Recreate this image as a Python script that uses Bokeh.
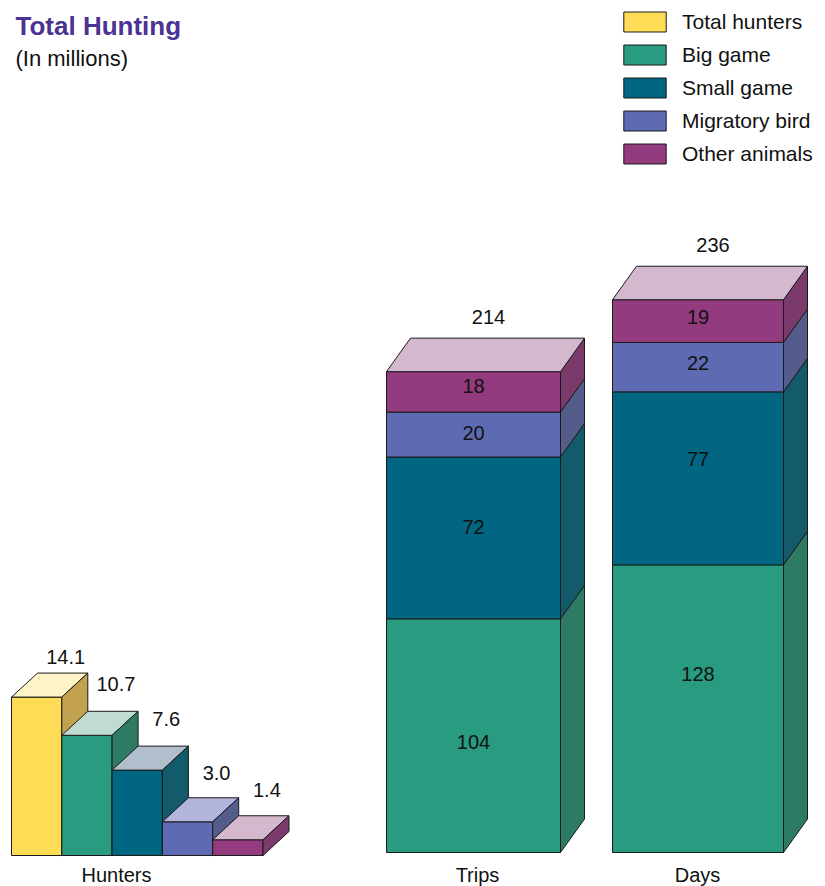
from bokeh.plotting import figure
from bokeh.models import Range1d, ColumnDataSource, Label, Legend, LegendItem
from bokeh.core.properties import value
from bokeh.embed import file_html
from bokeh.resources import INLINE

# ---------------------------------------------------------------- data (millions)
hunter_types = ["Total hunters", "Big game", "Small game", "Migratory bird", "Other animals"]
hunters = [14.1, 10.7, 7.6, 3.0, 1.4]

segment_types = ["Big game", "Small game", "Migratory bird", "Other animals"]
trips = [104, 72, 20, 18]
days = [128, 77, 22, 19]
stack_totals = [214, 236]

groups = ["Hunters", "Trips", "Days"]

# ---------------------------------------------------------------- colours
front_col = {
    "Total hunters": "#FFDC55",
    "Big game": "#289B80",
    "Small game": "#006682",
    "Migratory bird": "#5E6BB3",
    "Other animals": "#933B7E",
}
top_col = {
    "Total hunters": "#FFF4C8",
    "Big game": "#C0DBD2",
    "Small game": "#B1BFCC",
    "Migratory bird": "#B3B5DD",
    "Other animals": "#D3B8CE",
}
side_col = {
    "Total hunters": "#C3A24F",
    "Big game": "#2E7B65",
    "Small game": "#135A6B",
    "Migratory bird": "#545C8B",
    "Other animals": "#7A3A6B",
}
EDGE = "#1a1a1a"
FONT_NAME = "Liberation Sans"
FONT = value(FONT_NAME)

# ---------------------------------------------------------------- layout
W, H = 825, 886
BASE = 852            # screen row of the baseline (trips / days)
PPU = 2.247           # pixels per million for trips / days
H_BASE = 855          # screen row of the baseline (hunters)
H_PPU = PPU * 5       # hunters use a scale five times larger

# screen-pixel nudges for the value labels
hunter_label_lift = [-16, -27, -27, -25, -26]
trips_label_nudge = [6, -11, -2, -6]
days_label_nudge = [-35, -19, -4, -4]

p = figure(width=W, height=H, output_backend="svg", toolbar_location=None,
           x_range=Range1d(0, W),
           y_range=Range1d(-(H - BASE) / PPU, BASE / PPU),
           x_axis_location=None, y_axis_location=None, min_border=0)
p.extra_y_ranges = {"hunters": Range1d(-(H - H_BASE) / H_PPU, H_BASE / H_PPU)}
p.grid.visible = False
p.outline_line_color = None
p.background_fill_color = "white"
p.border_fill_color = "white"

face = dict(line_color=EDGE, line_width=1)

# ---------------------------------------------------------------- hunters (side by side)
HX0, HW = 11, 50.3
H_DX, H_DY = 26, 24 / H_PPU
legend_items = []
hl = dict(x=[], y=[], text=[], dy=[])
for i, (name, v) in enumerate(zip(hunter_types, hunters)):
    L = HX0 + i * HW
    R = L + HW
    r = p.quad(left=[L], right=[R], bottom=[0], top=[v], fill_color=front_col[name],
               y_range_name="hunters", **face)
    p.patch([L, L + H_DX, R + H_DX, R], [v, v + H_DY, v + H_DY, v],
            fill_color=top_col[name], y_range_name="hunters", **face)
    p.patch([R, R + H_DX, R + H_DX, R], [0, H_DY, v + H_DY, v],
            fill_color=side_col[name], y_range_name="hunters", **face)
    legend_items.append(LegendItem(label=name, renderers=[r]))
    hl["x"].append((L + R) / 2 + H_DX + 3)
    hl["y"].append(v + H_DY)
    hl["text"].append(f"{v:.1f}")
    hl["dy"].append(hunter_label_lift[i])

p.text(x="x", y="y", text="text", source=ColumnDataSource(hl), y_range_name="hunters",
       y_offset="dy", text_align="center", text_baseline="middle",
       text_font=FONT, text_font_size="20px", text_color="#111111")

# ---------------------------------------------------------------- trips / days (stacked)
S_DX, S_DY = 24, 33.5 / PPU
stacks = [(trips, 386, 174, trips_label_nudge), (days, 612, 171, days_label_nudge)]
seg_lab = dict(x=[], y=[], text=[], dy=[])
tot_lab = dict(x=[], y=[], text=[])
for (vals, L, BW, nudge), total in zip(stacks, stack_totals):
    R = L + BW
    b = 0
    for name, v, dy in zip(segment_types, vals, nudge):
        t = b + v
        p.quad(left=[L], right=[R], bottom=[b], top=[t], fill_color=front_col[name], **face)
        p.patch([R, R + S_DX, R + S_DX, R], [b, b + S_DY, t + S_DY, t],
                fill_color=side_col[name], **face)
        seg_lab["x"].append((L + R) / 2)
        seg_lab["y"].append((b + t) / 2)
        seg_lab["text"].append(str(v))
        seg_lab["dy"].append(dy)
        b = t
    p.patch([L, L + S_DX, R + S_DX, R], [b, b + S_DY, b + S_DY, b],
            fill_color=top_col[segment_types[-1]], **face)
    tot_lab["x"].append((L + R) / 2 + 15)
    tot_lab["y"].append(b + S_DY)
    tot_lab["text"].append(str(total))

p.text(x="x", y="y", text="text", source=ColumnDataSource(seg_lab), y_offset="dy",
       text_align="center", text_baseline="middle",
       text_font=FONT, text_font_size="20px", text_color="#111111")
p.text(x="x", y="y", text="text", source=ColumnDataSource(tot_lab), y_offset=-21,
       text_align="center", text_baseline="middle",
       text_font=FONT, text_font_size="20px", text_color="#111111")

# ---------------------------------------------------------------- group names
group_x = [116, 477, 697]
p.text(x=group_x, y=[0] * len(groups), text=groups, y_offset=22,
       text_align="center", text_baseline="middle",
       text_font=FONT, text_font_size="20px", text_color="#111111")

# ---------------------------------------------------------------- title
p.add_layout(Label(x=15, y=H - 25, x_units="screen", y_units="screen",
                   text="Total Hunting", text_font=FONT_NAME, text_font_size="26px",
                   text_font_style="bold", text_color="#4B3394",
                   text_baseline="alphabetic"))
p.add_layout(Label(x=15, y=H - 58, x_units="screen", y_units="screen",
                   text="(In millions)", text_font=FONT_NAME, text_font_size="22px",
                   text_color="#111111", text_baseline="alphabetic"))

# ---------------------------------------------------------------- legend
legend = Legend(items=legend_items, location=(618, H - 9 - (5 * 25 + 4 * 8)),
                orientation="vertical", glyph_width=53, glyph_height=25,
                label_height=25, label_standoff=11, spacing=8, padding=0, margin=0,
                label_text_font=FONT_NAME, label_text_font_size="21px",
                label_text_color="#111111",
                border_line_alpha=0, background_fill_alpha=0)
p.add_layout(legend)

open("out.html", "w").write(file_html(p, INLINE))
